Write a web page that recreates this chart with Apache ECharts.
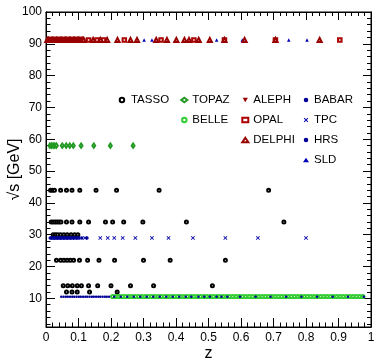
<!DOCTYPE html>
<html>
<head>
<meta charset="utf-8">
<script src="https://cdn.jsdelivr.net/npm/echarts@6/dist/echarts.min.js"></script>
<style>
html,body{margin:0;padding:0;background:#fff}
#chart{width:374px;height:362px}
</style>
</head>
<body>
<div id="chart"></div>
<script>
// Fragmentation measurements: scaled momentum z versus centre-of-mass energy.

// Axis ticks
const xTicks = [0, 0.1, 0.2, 0.3, 0.4, 0.5, 0.6, 0.7, 0.8, 0.9, 1];
const yTicks = [10, 20, 30, 40, 50, 60, 70, 80, 90, 100];
const yMinorTicks = [2, 4, 6, 8, 12, 14, 16, 18, 22, 24, 26, 28, 32, 34, 36, 38, 42, 44, 46, 48,
  52, 54, 56, 58, 62, 64, 66, 68, 72, 74, 76, 78, 82, 84, 86, 88, 92, 94, 96, 98];

// Energies (GeV)
const eTasso = [12, 14, 22, 30, 34, 44];
const eTopaz = 58;
const eBelle = 10.58;
const eBabar = 10.54;
const ePep = 29;
const eZ = 91.2;

// TASSO z values per energy
const tasso12 = [0.063, 0.080, 0.096, 0.134, 0.219];
const tasso14 = [0.053, 0.067, 0.081, 0.096, 0.109, 0.131, 0.159, 0.200, 0.260, 0.331, 0.512];
const tasso22 = [0.032, 0.045, 0.055, 0.065, 0.075, 0.085, 0.103, 0.128, 0.163, 0.211, 0.300, 0.382, 0.552];
const tasso30 = [0.022, 0.029, 0.036, 0.045, 0.055, 0.065, 0.077, 0.088, 0.098];
const tasso34 = [0.016, 0.022, 0.028, 0.034, 0.040, 0.046, 0.063, 0.080, 0.104, 0.131, 0.183, 0.205, 0.239, 0.298, 0.432, 0.732];
const tasso44 = [0.014, 0.020, 0.026, 0.045, 0.063, 0.080, 0.104, 0.154, 0.217, 0.348, 0.685];

// TOPAZ
const topazZ = [0.012, 0.017, 0.022, 0.027, 0.032, 0.050, 0.062, 0.073, 0.084, 0.108, 0.147, 0.198, 0.268];

// BELLE
const belleZ = [0.205, 0.215, 0.225, 0.235, 0.245, 0.255, 0.265, 0.275, 0.285, 0.295,
  0.305, 0.315, 0.325, 0.335, 0.345, 0.355, 0.365, 0.375, 0.385, 0.395,
  0.405, 0.415, 0.425, 0.435, 0.445, 0.455, 0.465, 0.475, 0.485, 0.495,
  0.505, 0.515, 0.525, 0.535, 0.545, 0.555, 0.565, 0.575, 0.585, 0.595,
  0.605, 0.615, 0.625, 0.635, 0.645, 0.655, 0.665, 0.675, 0.685, 0.695,
  0.705, 0.715, 0.725, 0.735, 0.745, 0.755, 0.765, 0.775, 0.785, 0.795,
  0.805, 0.815, 0.825, 0.835, 0.845, 0.855, 0.865, 0.875, 0.885, 0.895,
  0.905, 0.915, 0.925, 0.935, 0.945, 0.955, 0.965, 0.975];

// BABAR
const babarZ = [0.047, 0.054, 0.061, 0.067, 0.074, 0.081, 0.087, 0.094, 0.101, 0.107, 0.114, 0.121,
  0.127, 0.134, 0.141, 0.147, 0.154, 0.161, 0.167, 0.174, 0.181, 0.187, 0.194,
  0.21, 0.23, 0.25, 0.27, 0.29, 0.31, 0.33, 0.35, 0.37, 0.39, 0.41, 0.43,
  0.447, 0.469, 0.487, 0.504, 0.525, 0.540, 0.558, 0.597, 0.645, 0.691, 0.739, 0.786,
  0.834, 0.882, 0.929, 0.978];

// TPC and HRS (29 GeV)
const tpcZ = [0.02, 0.03, 0.04, 0.05, 0.06, 0.07, 0.08, 0.09, 0.10, 0.12, 0.167, 0.190, 0.210,
  0.236, 0.275, 0.326, 0.377, 0.452, 0.552, 0.652, 0.800];
const hrsZ = [0.013, 0.017, 0.021, 0.025, 0.029, 0.033, 0.037, 0.041, 0.045, 0.049, 0.054, 0.059,
  0.064, 0.069, 0.074, 0.079, 0.085, 0.092, 0.100, 0.110, 0.126];

// Z-pole experiments
const alephZ = [0.006, 0.011, 0.016, 0.021, 0.026, 0.031, 0.036, 0.041, 0.046, 0.051, 0.056, 0.061,
  0.066, 0.071, 0.076, 0.081, 0.086, 0.091, 0.096, 0.101, 0.106, 0.111, 0.116];
const opalZ = [0.010, 0.020, 0.030, 0.040, 0.050, 0.060, 0.070, 0.080, 0.090, 0.100, 0.110,
  0.131, 0.157, 0.177, 0.241, 0.354, 0.455, 0.549, 0.706, 0.904];
const delphiZ = [0.004, 0.008, 0.012, 0.016, 0.020, 0.024, 0.028, 0.032, 0.036, 0.040, 0.044,
  0.048, 0.052, 0.056, 0.060, 0.064, 0.068, 0.072, 0.076, 0.080, 0.084, 0.088, 0.092,
  0.096, 0.100, 0.104, 0.108, 0.112, 0.116, 0.145, 0.167, 0.188, 0.220, 0.260, 0.280,
  0.339, 0.372, 0.401, 0.426, 0.440, 0.470, 0.504, 0.549, 0.611, 0.706, 0.842];
const sldZ = [0.010, 0.020, 0.030, 0.040, 0.050, 0.060, 0.070, 0.080, 0.090, 0.100, 0.110,
  0.124, 0.302, 0.326, 0.466, 0.525, 0.604, 0.747, 0.803];

const FONT = '"Liberation Sans", Arial, Helvetica, sans-serif';
const RED = '#990000';
const BLUE = '#000099';
const CROSS = 'path://M0,1.4L1.4,0L5,3.6L8.6,0L10,1.4L6.4,5L10,8.6L8.6,10L5,6.4L1.4,10L0,8.6L3.6,5Z';
const DOWN_TRIANGLE = 'path://M0,0L10,0L5,8.66Z';

const pts = (zs, e) => zs.map(z => [z, e]);
const tassoData = [].concat(
  pts(tasso12, eTasso[0]), pts(tasso14, eTasso[1]), pts(tasso22, eTasso[2]),
  pts(tasso30, eTasso[3]), pts(tasso34, eTasso[4]), pts(tasso44, eTasso[5]));

function sc(name, data, symbol, size, color, border) {
  const itemStyle = { color, opacity: 1 };
  if (border) itemStyle.borderWidth = border;
  return {
    name, type: 'scatter', data, symbol, symbolSize: size, itemStyle,
    emphasis: { disabled: true }, animation: false
  };
}

const series = [
  sc('TASSO', tassoData, 'emptyCircle', 3, '#000', 2.6),
  sc('TOPAZ', pts(topazZ, eTopaz), 'emptyDiamond', [3, 4.5], '#229922', 1.2),
  sc('BELLE', pts(belleZ, eBelle), 'emptyCircle', 3.2, '#33cc33', 1),
  sc('BABAR', pts(babarZ, eBabar), 'circle', 2.5, BLUE),
  sc('TPC', pts(tpcZ, ePep), CROSS, 4, '#0000aa'),
  sc('HRS', pts(hrsZ, ePep), 'circle', 3.5, BLUE),
  sc('SLD', pts(sldZ, eZ), 'triangle', 3.5, '#0000bb'),
  sc('OPAL', pts(opalZ, eZ), 'emptyRect', 3.5, '#aa0000', 1.3),
  sc('ALEPH', pts(alephZ, eZ), DOWN_TRIANGLE, 4, RED),
  sc('DELPHI', pts(delphiZ, eZ), 'emptyTriangle', 4.2, RED, 1.5)
];

function legendCol(names, left, w) {
  return {
    data: names, left, top: 90, orient: 'vertical', itemGap: 0, padding: 0,
    itemWidth: w, itemHeight: 4.5, selectedMode: false,
    textStyle: { fontFamily: FONT, fontSize: 11.5, color: '#000', lineHeight: 20 }
  };
}

const tickStyle = { color: '#000', width: 1 };
const option = {
  animation: false,
  grid: { left: 46, right: 3, top: 12, bottom: 35, show: true, borderColor: '#000', borderWidth: 1, outerBoundsMode: 'none' },
  legend: [
    legendCol(['TASSO'], 118.7, 8),
    legendCol(['TOPAZ', 'BELLE'], 180.3, 6),
    legendCol(['ALEPH', 'OPAL', 'DELPHI'], 241.3, 6),
    legendCol(['BABAR', 'TPC', 'HRS', 'SLD'], 303, 6)
  ],
  xAxis: [
    {
      type: 'value', position: 'bottom', min: xTicks[0], max: xTicks[xTicks.length - 1], interval: 0.1,
      axisLine: { show: true, lineStyle: tickStyle },
      axisTick: { show: true, inside: true, length: 9, lineStyle: tickStyle },
      minorTick: { show: true, splitNumber: 5, length: 4.5, lineStyle: tickStyle },
      splitLine: { show: false }, minorSplitLine: { show: false },
      axisLabel: { margin: 5, fontFamily: FONT, fontSize: 12, color: '#000',
        formatter: v => String(xTicks.find(t => Math.abs(t - v) < 1e-6) ?? v) },
      name: 'z', nameLocation: 'middle', nameGap: 19, nameMoveOverlap: false,
      nameTextStyle: { fontFamily: FONT, fontSize: 16, color: '#000' }
    },
    {
      type: 'value', position: 'top', min: 0, max: 1, interval: 0.1,
      axisLine: { show: true, lineStyle: tickStyle },
      axisTick: { show: true, inside: true, length: 8, lineStyle: tickStyle },
      minorTick: { show: true, splitNumber: 5, length: 4, lineStyle: tickStyle },
      splitLine: { show: false }, axisLabel: { show: false }
    }
  ],
  yAxis: [
    {
      type: 'value', position: 'left', min: 1, max: 100,
      axisLine: { show: true, lineStyle: tickStyle },
      axisTick: { show: true, inside: true, length: 9, lineStyle: tickStyle, customValues: yTicks },
      splitLine: { show: false },
      axisLabel: { margin: 4, fontFamily: FONT, fontSize: 12, color: '#000', customValues: yTicks },
      name: '√s [GeV]', nameLocation: 'middle', nameGap: 23, nameMoveOverlap: false,
      nameTextStyle: { fontFamily: FONT, fontSize: 16, color: '#000' }
    },
    {
      type: 'value', position: 'left', min: 1, max: 100,
      axisLine: { show: true, lineStyle: tickStyle },
      axisTick: { show: true, inside: true, length: 4.5, lineStyle: tickStyle, customValues: yMinorTicks },
      splitLine: { show: false }, axisLabel: { show: false }
    },
    {
      type: 'value', position: 'right', min: 1, max: 100,
      axisLine: { show: true, lineStyle: tickStyle },
      axisTick: { show: true, inside: true, length: 8, lineStyle: tickStyle, customValues: yTicks },
      splitLine: { show: false }, axisLabel: { show: false }
    },
    {
      type: 'value', position: 'right', min: 1, max: 100,
      axisLine: { show: true, lineStyle: tickStyle },
      axisTick: { show: true, inside: true, length: 4, lineStyle: tickStyle, customValues: yMinorTicks },
      splitLine: { show: false }, axisLabel: { show: false }
    }
  ],
  series
};

const chart = echarts.init(document.getElementById('chart'), null, { renderer: 'canvas' });
chart.setOption(option);
</script>
</body>
</html>
